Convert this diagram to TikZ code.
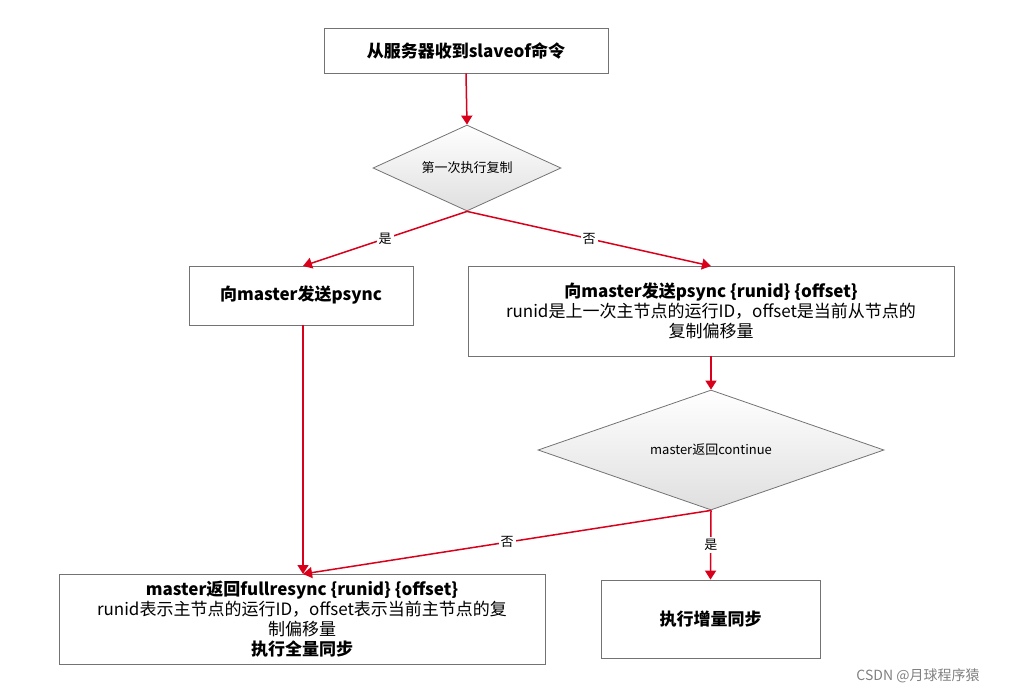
\documentclass[tikz,border=0pt]{standalone}
\usepackage{fontspec}
\setmainfont{Noto Sans CJK SC}
\usetikzlibrary{shapes.geometric,arrows.meta}
\definecolor{ln}{HTML}{D9001B}
\begin{document}
\begin{tikzpicture}[x=1pt,y=-1pt,
  box/.style={draw=gray!90!black,line width=0.8pt,fill=white,inner sep=0pt,align=center},
  dia/.style={diamond,draw=gray!90!black,line width=0.8pt,top color=white,bottom color=gray!25,inner sep=0pt,aspect=2.2,font=\fontsize{13}{15}\selectfont},
  arr/.style={draw=ln,line width=1.5pt,-{Triangle[length=9pt,width=11pt]}},
  lab/.style={fill=white,inner sep=2pt,font=\fontsize{13}{15}\selectfont},
  big/.style={font=\fontsize{17}{20}\selectfont}]
\useasboundingbox (0,0) rectangle (1019,694);
\node[box,minimum width=284pt,minimum height=45pt,big] (start) at (466,50.5) {\textbf{从服务器收到slaveof命令}};
\node[dia,minimum width=188pt,minimum height=86pt] (d1) at (467,168) {第一次执行复制};
\node[box,minimum width=224pt,minimum height=59pt,big] (l) at (301,295.5) {\textbf{向master发送psync}};
\node[box,minimum width=486pt,minimum height=90pt,big] (r) at (711,311) {\textbf{向master发送psync \{runid\} \{offset\}}\\runid是上一次主节点的运行ID，offset是当前从节点的\\复制偏移量};
\node[dia,minimum width=346pt,minimum height=120pt] (d2) at (711,450) {master返回continue};
\node[box,minimum width=486pt,minimum height=90pt,big] (bl) at (302,619) {\textbf{master返回fullresync \{runid\} \{offset\}}\\runid表示主节点的运行ID，offset表示当前主节点的复\\制偏移量\\\textbf{执行全量同步}};
\node[box,minimum width=219pt,minimum height=78pt,big] (br) at (710.5,619) {\textbf{执行增量同步}};
\coordinate (lt) at (303,266);
\coordinate (rt) at (711,266);
\coordinate (blt) at (303,574);
\draw[arr] (start.south) -- (d1.north);
\draw[arr] (d1.south) -- node[lab,pos=0.5] {是} (lt);
\draw[arr] (d1.south) -- node[lab,pos=0.5] {否} (rt);
\draw[arr] (r.south) -- (d2.north);
\draw[arr] (303,325) -- (blt);
\draw[arr] (d2.south) -- node[lab,pos=0.5] {否} (blt);
\draw[arr] (d2.south) -- node[lab,pos=0.5] {是} (br.north);
\node[text=gray,font=\fontsize{14}{16}\selectfont] (wm) at (918,676) {CSDN @月球程序猿};
\end{tikzpicture}
\end{document}
